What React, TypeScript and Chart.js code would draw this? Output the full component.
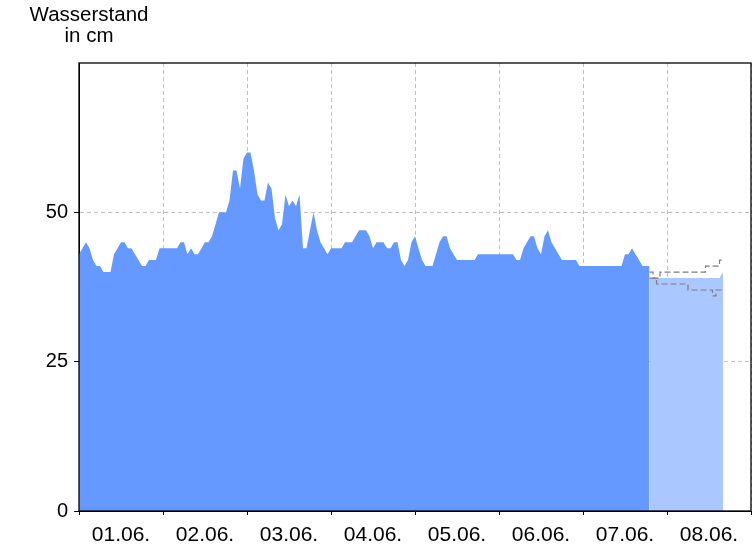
import React, { useEffect, useRef } from "react";
import { Chart, registerables } from "chart.js";

Chart.register(...registerables);

// ---- data ----
const titleLines = ["Wasserstand", "in cm"];
const dayLabels = ["01.06.", "02.06.", "03.06.", "04.06.", "05.06.", "06.06.", "07.06.", "08.06."];
const yTickValues = [0, 25, 50];
const hoursPerDay = 24;

// hourly measured water level (cm), starting 01.06. 00:00
const day1 = [43, 44, 45, 44, 42, 41, 41, 40, 40, 40, 43, 44, 45, 45, 44, 44, 43, 42, 41, 41, 42, 42, 42, 44];
const day2 = [44, 44, 44, 44, 44, 45, 45, 43, 44, 43, 43, 44, 45, 45, 46, 48, 50, 50, 50, 52, 57, 57, 54, 59];
const day3 = [60, 60, 57, 53, 52, 52, 55, 54, 49, 47, 48, 53, 51, 52, 51, 53, 44, 44, 47, 50, 47, 45, 44, 43];
const day4 = [44, 44, 44, 44, 45, 45, 45, 46, 47, 47, 47, 46, 44, 45, 45, 45, 44, 44, 45, 45, 42, 41, 42, 45];
const day5 = [46, 44, 42, 41, 41, 41, 43, 45, 46, 46, 44, 43, 42, 42, 42, 42, 42, 42, 43, 43, 43, 43, 43, 43];
const day6 = [43, 43, 43, 43, 43, 42, 42, 44, 45, 46, 46, 44, 43, 46, 47, 45, 44, 43, 42, 42, 42, 42, 42, 41];
const day7 = [41, 41, 41, 41, 41, 41, 41, 41, 41, 41, 41, 41, 43, 43, 44, 43, 42, 41, 41, 41];

// forecast, hourly from hour 163
const forecastStartHour = 163;
const forecastMean = [39, 39, 39, 39, 39, 39, 39, 39, 39, 39, 39, 39, 39, 39, 39, 39, 39, 39, 39, 39, 39, 40];
const forecastUpper = [40, 39, 39, 40, 40, 40, 40, 40, 40, 40, 40, 40, 40, 40, 40, 40, 41, 41, 41, 41, 42, 42];
const forecastLower = [39, 39, 38, 38, 38, 38, 38, 38, 38, 38, 38, 37, 37, 37, 37, 37, 37, 37, 36, 37, 37, 37];

const FONT = "'Liberation Sans', Arial, Helvetica, sans-serif";

export default function App() {
  const ref = useRef<HTMLCanvasElement | null>(null);

  useEffect(() => {
    if (!ref.current) return;
    const measured = [...day1, ...day2, ...day3, ...day4, ...day5, ...day6, ...day7].map((v, i) => ({ x: i, y: v }));
    const toPts = (arr: number[]) => arr.map((v, i) => ({ x: forecastStartHour + i, y: v }));

    const framePlugin = {
      id: "frameAndTitle",
      afterDraw(chart: any) {
        const { ctx, chartArea } = chart;
        const { left, top, right, bottom } = chartArea;
        ctx.save();
        ctx.strokeStyle = "#000";
        ctx.lineWidth = 1.3;
        ctx.strokeRect(left, top, right - left, bottom - top);
        ctx.fillStyle = "#000";
        ctx.font = `20.5px ${FONT}`;
        ctx.textAlign = "center";
        ctx.textBaseline = "alphabetic";
        ctx.fillText(titleLines[0], 89, 21);
        ctx.fillText(titleLines[1], 89, 42);
        ctx.restore();
      },
    };

    const chart = new Chart(ref.current, {
      type: "line",
      data: {
        datasets: [
          {
            label: "Wasserstand",
            data: measured,
            fill: "origin",
            backgroundColor: "rgb(102,153,255)",
            borderWidth: 0,
            pointRadius: 0,
            order: 1,
          },
          {
            label: "Vorhersage",
            data: toPts(forecastMean),
            fill: "origin",
            backgroundColor: "rgb(170,199,255)",
            borderWidth: 0,
            pointRadius: 0,
            order: 2,
          },
          {
            label: "obere Grenze",
            data: toPts(forecastUpper),
            fill: false,
            stepped: true,
            borderColor: "#7d7d7d",
            borderWidth: 1.2,
            borderDash: [6, 3],
            pointRadius: 0,
            order: 0,
          },
          {
            label: "untere Grenze",
            data: toPts(forecastLower),
            fill: false,
            stepped: true,
            borderColor: "#7d7d7d",
            borderWidth: 1.2,
            borderDash: [6, 3],
            pointRadius: 0,
            order: 0,
          },
        ],
      },
      options: {
        responsive: false,
        animation: false,
        layout: { padding: { top: 63, right: 5, left: 0, bottom: 0 } },
        plugins: { legend: { display: false }, tooltip: { enabled: false }, title: { display: false } },
        scales: {
          x: {
            type: "linear",
            min: 0,
            max: dayLabels.length * hoursPerDay,
            z: 1,
            afterBuildTicks: (s: any) => {
              s.ticks = dayLabels.map((_, i) => ({ value: hoursPerDay * i + hoursPerDay / 2 }));
            },
            afterFit: (s: any) => {
              s.height = 35;
            },
            ticks: {
              autoSkip: false,
              maxRotation: 0,
              padding: 8,
              color: "#000",
              font: { size: 21, family: FONT },
              callback: (_v: any, i: number) => dayLabels[i],
            },
            grid: { offset: true, color: "#c0c0c0", tickColor: "#000", tickLength: 4, lineWidth: 1 },
            border: { display: true, color: "#000", dash: [4, 3] },
          },
          y: {
            type: "linear",
            min: 0,
            max: 75,
            z: 1,
            afterBuildTicks: (s: any) => {
              s.ticks = yTickValues.map((v) => ({ value: v }));
            },
            afterFit: (s: any) => {
              s.width = 79;
            },
            ticks: {
              padding: 6,
              color: "#000",
              font: { size: 20, family: FONT },
            },
            grid: { color: "#c0c0c0", tickColor: "#000", tickLength: 5, lineWidth: 1 },
            border: { display: true, color: "#000", dash: [4, 3] },
          },
        },
      },
      plugins: [framePlugin],
    } as any);
    return () => chart.destroy();
  }, []);

  return (
    <div style={{ position: "absolute", left: 0, top: 0, width: 756, height: 546, background: "#fff" }}>
      <canvas ref={ref} width={756} height={546} />
    </div>
  );
}
